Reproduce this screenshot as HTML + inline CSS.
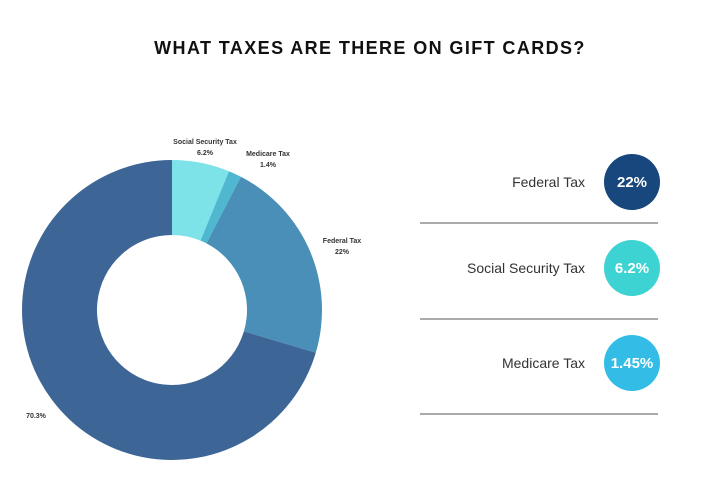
<!DOCTYPE html>
<html><head><style>
body{margin:0;width:720px;height:489px;background:#fff;font-family:"Liberation Sans",sans-serif;position:relative;overflow:hidden}
.t{position:absolute;white-space:nowrap}
</style></head><body>
<div class="t" style="left:0;width:740px;top:38px;text-align:center;font-weight:bold;font-size:18px;letter-spacing:1.4px;color:#111">WHAT TAXES ARE THERE ON GIFT CARDS?</div>
<svg width="720" height="489" style="position:absolute;left:0;top:0">
<g id="d"></g>
<line x1="420" y1="223" x2="658" y2="223" stroke="#777" stroke-width="1.3"/>
<line x1="420" y1="319" x2="658" y2="319" stroke="#777" stroke-width="1.3"/>
<line x1="420" y1="414" x2="658" y2="414" stroke="#777" stroke-width="1.3"/>
<circle cx="632" cy="182" r="28" fill="#17477d"/>
<circle cx="632" cy="268" r="28" fill="#3dd3d2"/>
<circle cx="632" cy="363" r="28" fill="#33bde6"/>
<g font-family="Liberation Sans,sans-serif" font-weight="bold" font-size="15" fill="#fff" text-anchor="middle">
<text x="632" y="187">22%</text><text x="632" y="273">6.2%</text><text x="632" y="368">1.45%</text></g>
<g font-family="Liberation Sans,sans-serif" font-size="14" fill="#333" text-anchor="end">
<text x="585" y="187">Federal Tax</text><text x="585" y="273">Social Security Tax</text><text x="585" y="368">Medicare Tax</text></g>
<g font-family="Liberation Sans,sans-serif" font-weight="bold" font-size="7" fill="#333" text-anchor="middle">
<text x="205" y="144">Social Security Tax</text><text x="205" y="155">6.2%</text>
<text x="268" y="156">Medicare Tax</text><text x="268" y="167">1.4%</text>
<text x="342" y="243">Federal Tax</text><text x="342" y="254">22%</text>
<text x="36" y="418">70.3%</text></g>
</svg>
<script>
var cx=172,cy=310,R=150,r=75,vals=[[6.2,"#7ee3e8"],[1.4,"#4fb8d0"],[22,"#4a8fb8"],[70.4,"#3d6595"]],a=-Math.PI/2,h="";
function p(rad,an){return (cx+rad*Math.cos(an)).toFixed(2)+","+(cy+rad*Math.sin(an)).toFixed(2)}
vals.forEach(function(v){var b=a+v[0]/100*2*Math.PI,l=(b-a)>Math.PI?1:0;
h+='<path fill="'+v[1]+'" d="M'+p(R,a)+' A'+R+','+R+' 0 '+l+' 1 '+p(R,b)+' L'+p(r,b)+' A'+r+','+r+' 0 '+l+' 0 '+p(r,a)+' Z"/>';a=b;});
document.getElementById("d").innerHTML=h;
</script>
</body></html>
